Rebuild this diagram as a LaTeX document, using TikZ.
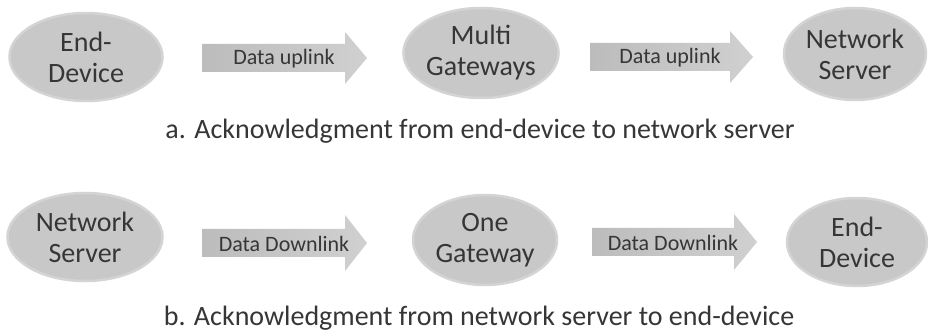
\documentclass[tikz,border=0pt]{standalone}
\usepackage{fontspec}
\setmainfont{Carlito}
\usetikzlibrary{shapes.geometric}
\definecolor{ink}{HTML}{363636}
\definecolor{blobfill}{HTML}{C8C8C8}
\definecolor{blobedge}{HTML}{D4D4D4}
\definecolor{arrowdark}{HTML}{BCBCBC}
\definecolor{arrowlight}{HTML}{D0D0D0}
\begin{document}
\begin{tikzpicture}[x=1pt,y=-1pt,
  blob/.style={ellipse, fill=blobfill, draw=blobedge, line width=2.5pt,
    inner sep=0pt, text=ink, align=center,
    font=\fontsize{28}{31}\selectfont},
  arrowlabel/.style={text=ink, inner sep=0pt, font=\fontsize{22}{24}\selectfont},
  caption/.style={text=ink, inner sep=0pt, anchor=base, font=\fontsize{28}{30}\selectfont},
  blockarrow/.style={left color=arrowdark, right color=arrowlight, draw=none}]
\useasboundingbox (0,0) rectangle (928,336);
\fill[white] (0,0) rectangle (928,336);

% block arrow: #1 = left x, #2 = head start x, #3 = tip x, #4 = centre y,
% #5 = half shaft, #6 = half head
\newcommand{\blockarrowpath}[6]{%
  \path[blockarrow] (#1,#4-#5) -- (#2,#4-#5) -- (#2,#4-#6) -- (#3,#4)
    -- (#2,#4+#6) -- (#2,#4+#5) -- (#1,#4+#5) -- cycle;}

% row a: uplink
\node[blob, minimum width=153, minimum height=88] (ed1) at (86,57) {End-\\Device};
\node[blob, minimum width=150, minimum height=90] (mg) at (481,53) {Multi\\Gateways};
\node[blob, minimum width=142, minimum height=92] (ns1) at (855,54) {Network\\Server};
\blockarrowpath{202}{345}{367}{58}{14}{26}
\node[arrowlabel] (up1) at (284,59) {Data uplink};
\blockarrowpath{590}{730}{753}{57}{14}{26}
\node[arrowlabel] (up2) at (670,58) {Data uplink};
\node[caption] (capa) at (480,139) {a. Acknowledgment from end-device to network server};

% row b: downlink
\node[blob, minimum width=155, minimum height=88] (ns2) at (85,237) {Network\\Server};
\node[blob, minimum width=144, minimum height=90] (og) at (485,240) {One\\Gateway};
\node[blob, minimum width=140, minimum height=88] (ed2) at (857,242) {End-\\Device};
\blockarrowpath{202}{345}{367}{243}{14}{28}
\node[arrowlabel] (dn1) at (284,244) {Data Downlink};
\blockarrowpath{592}{734}{757}{242}{14}{28}
\node[arrowlabel] (dn2) at (673,243) {Data Downlink};
\node[caption] (capb) at (479,326) {b. Acknowledgment from network server to end-device};
\end{tikzpicture}
\end{document}
